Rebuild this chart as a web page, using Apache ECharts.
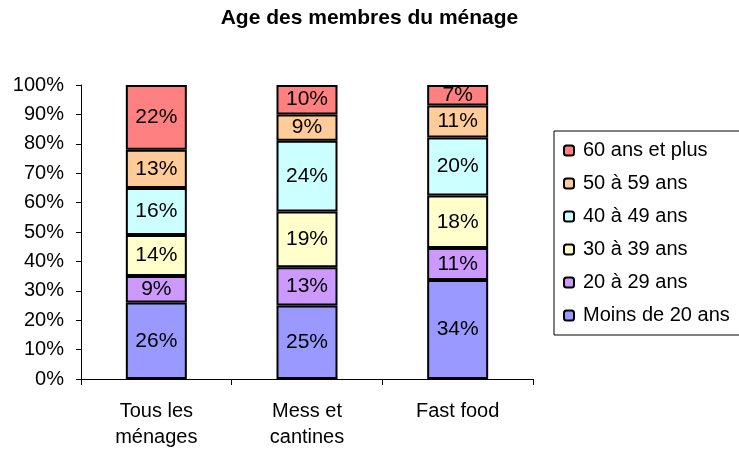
<!DOCTYPE html>
<html lang="fr">
<head>
    <meta charset="UTF-8">
    <title>Age des membres du ménage</title>
    <script src="https://cdn.jsdelivr.net/npm/echarts@6/dist/echarts.min.js"></script>
    <style>
        html, body { margin: 0; padding: 0; background: #fff; }
        #main { width: 739px; height: 451px; }
    </style>
</head>
<body>
<div id="main"></div>
<script type="text/javascript">
    // catégories
    var categories = ['Tous les\nménages', 'Mess et\ncantines', 'Fast food'];
    // tranches d'âge (de bas en haut)
    var moins20 = [26, 25, 34];
    var de20a29 = [9, 13, 11];
    var de30a39 = [14, 19, 18];
    var de40a49 = [16, 24, 20];
    var de50a59 = [13, 9, 11];
    var plus60 = [22, 10, 7];
    var yTicks = [0, 10, 20, 30, 40, 50, 60, 70, 80, 90, 100];

    var FONT = 'Liberation Sans, Arial, sans-serif';

    var groups = [
        {name: 'Moins de 20 ans', data: moins20, color: '#9999FF'},
        {name: '20 à 29 ans', data: de20a29, color: '#CC99FF'},
        {name: '30 à 39 ans', data: de30a39, color: '#FFFFCC'},
        {name: '40 à 49 ans', data: de40a49, color: '#CCFFFF'},
        {name: '50 à 59 ans', data: de50a59, color: '#FFCC99'},
        {name: '60 ans et plus', data: plus60, color: '#FF8080'}
    ];

    // totaux par catégorie, pour un empilement à 100%
    var totals = categories.map(function (c, i) {
        var s = 0;
        groups.forEach(function (g) { s += g.data[i]; });
        return s;
    });

    var myChart = echarts.init(document.getElementById('main'));

    var series = groups.map(function (g) {
        return {
            name: g.name,
            type: 'bar',
            stack: 'total',
            barWidth: 61,
            data: g.data.map(function (v, i) {
                return {value: v / totals[i] * 100, raw: v};
            }),
            itemStyle: {color: g.color, borderColor: '#000', borderWidth: 2},
            label: {
                show: true,
                position: 'inside',
                color: '#000',
                fontFamily: FONT,
                fontSize: 21,
                formatter: function (p) { return p.data.raw + '%'; }
            }
        };
    });

    myChart.setOption({
        backgroundColor: '#ffffff',
        animation: false,
        title: {
            text: 'Age des membres du ménage',
            left: 'center',
            top: 3,
            textStyle: {
                fontFamily: FONT,
                fontSize: 21,
                fontWeight: 'bold',
                color: '#000'
            }
        },
        legend: {
            orient: 'vertical',
            left: 554,
            top: 131,
            itemWidth: 10,
            itemHeight: 10,
            itemGap: 10,
            padding: [8, 14, 8, 9],
            borderColor: '#000',
            borderWidth: 1,
            textStyle: {
                fontFamily: FONT,
                fontSize: 20,
                color: '#000',
                lineHeight: 23,
                padding: [0, 0, 0, 4]
            },
            data: groups.map(function (g) { return g.name; }).reverse()
        },
        grid: {
            left: 81,
            right: 206,
            top: 85,
            bottom: 72
        },
        xAxis: {
            type: 'category',
            data: categories,
            axisLine: {lineStyle: {color: '#000', width: 1}},
            axisTick: {show: true, length: 6, lineStyle: {color: '#000'}},
            axisLabel: {
                color: '#000',
                fontFamily: FONT,
                fontSize: 20,
                lineHeight: 26,
                margin: 19
            }
        },
        yAxis: {
            type: 'value',
            min: 0,
            max: 100,
            interval: 10,
            axisLine: {show: true, lineStyle: {color: '#000', width: 1}},
            axisTick: {show: true, length: 5, lineStyle: {color: '#000'}},
            splitLine: {show: false},
            axisLabel: {
                color: '#000',
                fontFamily: FONT,
                fontSize: 20,
                margin: 17,
                formatter: function (v) {
                    return yTicks.indexOf(v) >= 0 ? v + '%' : '';
                }
            }
        },
        series: series
    });
</script>
</body>
</html>
